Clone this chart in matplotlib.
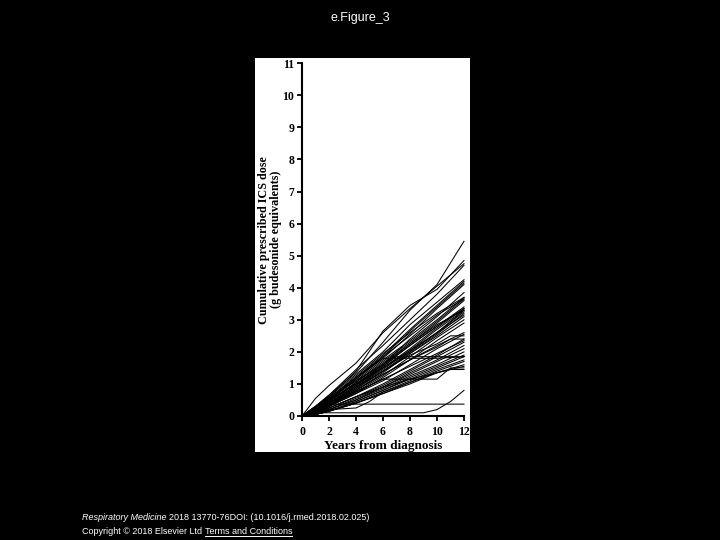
import matplotlib
matplotlib.use("Agg")
import matplotlib.pyplot as plt
from matplotlib.patches import Rectangle
from matplotlib.lines import Line2D

# yearly grid used by most patients
years = [0, 1, 2, 4, 6, 8, 10, 12]

# cumulative ICS dose (g budesonide equivalents) per patient
doses = [
    [0, 0.55, 0.95, 1.65, 2.60, 3.35, 4.05, 4.75],
    [0, 0.30, 0.65, 1.35, 2.30, 3.30, 4.10, 5.45],
    [0, 0.25, 0.60, 1.40, 2.65, 3.45, 3.95, 4.85],
    [0, 0.30, 0.65, 1.45, 2.20, 3.00, 3.80, 4.70],
    [0, 0.30, 0.60, 1.30, 2.00, 2.85, 3.55, 4.25],
    [0, 0.25, 0.55, 1.20, 1.90, 2.70, 3.45, 4.20],
    [0, 0.25, 0.55, 1.20, 1.85, 2.65, 3.40, 4.15],
    [0, 0.20, 0.50, 1.15, 1.80, 2.55, 3.35, 4.10],
    [0, 0.20, 0.45, 1.00, 1.60, 2.40, 3.10, 3.85],
    [0, 0.25, 0.50, 1.10, 1.75, 2.35, 3.00, 3.70],
    [0, 0.20, 0.45, 1.05, 1.70, 2.30, 2.95, 3.65],
    [0, 0.20, 0.45, 1.00, 1.60, 2.25, 2.90, 3.60],
    [0, 0.15, 0.40, 0.95, 1.55, 2.20, 2.80, 3.40],
    [0, 0.15, 0.40, 0.90, 1.50, 2.10, 2.75, 3.35],
    [0, 0.15, 0.35, 0.90, 1.45, 2.05, 2.70, 3.30],
    [0, 0.15, 0.35, 0.85, 1.40, 2.00, 2.60, 3.25],
    [0, 0.10, 0.30, 0.80, 1.35, 1.95, 2.55, 3.20],
    [0, 0.15, 0.35, 0.85, 1.40, 1.95, 2.50, 3.10],
    [0, 0.10, 0.30, 0.75, 1.25, 1.85, 2.45, 3.00],
    [0, 0.10, 0.30, 0.70, 1.20, 1.75, 2.35, 2.90],
    [0, 0.30, 0.60, 1.10, 1.60, 2.20, 2.80, 3.35],
    [0, 0.20, 0.50, 1.00, 1.50, 2.00, 2.60, 3.30],
    [0, 0.15, 0.35, 0.80, 1.30, 1.75, 2.20, 2.60],
    [0, 0.20, 0.50, 1.20, 1.80, 1.80, 1.80, 1.85],
    [0, 0.10, 0.30, 0.70, 1.10, 1.60, 2.10, 2.55],
    [0, 0.10, 0.25, 0.60, 1.00, 1.45, 1.90, 2.40],
    [0, 0.10, 0.25, 0.60, 0.95, 1.40, 1.85, 2.30],
    [0, 0.10, 0.20, 0.55, 0.90, 1.35, 1.75, 2.20],
    [0, 0.05, 0.20, 0.50, 0.90, 1.30, 1.70, 2.10],
    [0, 0.05, 0.20, 0.50, 0.85, 1.25, 1.60, 2.00],
    [0, 0.05, 0.15, 0.45, 0.80, 1.20, 1.55, 1.90],
    [0, 0.05, 0.15, 0.45, 0.80, 1.15, 1.50, 1.85],
    [0, 0.05, 0.15, 0.40, 0.75, 1.10, 1.45, 1.75],
    [0, 0.05, 0.15, 0.40, 0.70, 1.05, 1.40, 1.70],
    [0, 0.05, 0.15, 0.40, 0.70, 1.00, 1.35, 1.60],
    [0, 0.25, 0.55, 1.25, 1.95, 2.60, 3.20, 3.70],
    [0, 0.20, 0.50, 1.15, 1.85, 2.50, 3.15, 3.65],
    [0, 0.20, 0.45, 1.05, 1.65, 2.25, 2.85, 3.30],
    [0, 0.15, 0.40, 0.95, 1.50, 2.05, 2.60, 3.15],
    [0, 0.15, 0.35, 0.75, 1.15, 1.55, 1.95, 2.35],
]

# patients whose records change at irregular years
irregular_years = [
    [0, 2, 12],
    [0, 1, 9, 10, 11, 12],
    [0, 2, 4, 5, 6, 8, 10, 12],
    [0, 2, 4, 6, 10, 11, 12],
    [0, 2, 4, 6, 8, 10, 11, 12],
    [0, 2, 4, 6, 8, 10, 11, 12],
    [0, 2, 4, 6, 7, 12],
    [0, 2, 4, 6, 8, 10, 11, 12],
]
irregular_doses = [
    [0, 0.37, 0.37],
    [0, 0.10, 0.10, 0.20, 0.45, 0.80],
    [0, 0.20, 0.25, 0.45, 0.75, 1.05, 1.35, 1.55],
    [0, 0.35, 0.75, 1.15, 1.15, 1.50, 1.50],
    [0, 0.40, 0.90, 1.40, 1.90, 2.25, 2.50, 2.50],
    [0, 0.25, 0.60, 0.90, 1.15, 1.35, 1.45, 1.45],
    [0, 0.45, 1.00, 1.55, 1.85, 1.85],
    [0, 0.35, 0.80, 1.30, 1.75, 2.15, 2.40, 2.40],
]

x_ticks = [0, 2, 4, 6, 8, 10, 12]
y_ticks = list(range(0, 12))

fig = plt.figure(figsize=(7.2, 5.4), dpi=100, facecolor="black")

# white panel behind the figure
fig.patches.append(Rectangle((255 / 720, 1 - 452 / 540), 215 / 720, 394 / 540,
                             transform=fig.transFigure, facecolor="white",
                             edgecolor="none", zorder=-5))

ax = fig.add_axes([302 / 720, 1 - 416 / 540, 162 / 720, 352.7 / 540])
ax.set_zorder(2)
ax.set_facecolor("white")

for row in doses:
    ax.plot(years, row, color="black", lw=0.75, clip_on=False)
for xs, ys in zip(irregular_years, irregular_doses):
    ax.plot(xs, ys, color="black", lw=0.75, clip_on=False)

ax.set_xlim(0, 12)
ax.set_ylim(0, 11)
ax.set_xticks(x_ticks)
ax.set_yticks(y_ticks)

serif = "Liberation Serif"
for lab in ax.get_xticklabels() + ax.get_yticklabels():
    lab.set_fontfamily(serif)
    lab.set_fontweight("bold")
    lab.set_fontsize(8.5)

ax.spines["top"].set_visible(False)
ax.spines["right"].set_visible(False)
for s in ("left", "bottom"):
    ax.spines[s].set_linewidth(1.5)
ax.tick_params(direction="out", length=3.5, width=1.3)
ax.tick_params(axis="x", pad=4)
ax.tick_params(axis="y", pad=2)

ax.set_xlabel("Years from diagnosis", fontfamily=serif, fontweight="bold",
              fontsize=9.5, labelpad=1)
ax.set_ylabel("Cumulative prescribed ICS dose\n(g budesonide equivalents)",
              fontfamily=serif, fontweight="bold", fontsize=8.7, labelpad=0,
              linespacing=1.05)

fig.text(0.5, 1 - 18 / 540, "e.Figure_3", color="white", ha="center",
         va="center", fontsize=9, fontfamily="Liberation Sans")

# footer
fig.canvas.draw()
renderer = fig.canvas.get_renderer()
t1 = fig.text(82 / 720, 1 - 518 / 540, "Respiratory Medicine", color="white",
              fontsize=6.5, fontstyle="italic", va="center",
              fontfamily="Liberation Sans")
bb = t1.get_window_extent(renderer)
fig.text(bb.x1 / 720 + 0.003, 1 - 518 / 540,
         "2018 13770-76DOI: (10.1016/j.rmed.2018.02.025)", color="white",
         fontsize=6.5, va="center", fontfamily="Liberation Sans")
t3 = fig.text(82 / 720, 1 - 532 / 540, "Copyright \u00a9 2018 Elsevier Ltd ",
              color="white", fontsize=6.5, va="center",
              fontfamily="Liberation Sans")
bb3 = t3.get_window_extent(renderer)
t4 = fig.text(bb3.x1 / 720, 1 - 532 / 540, "Terms and Conditions",
              color="white", fontsize=6.5, va="center",
              fontfamily="Liberation Sans")
bb4 = t4.get_window_extent(renderer)
fig.lines.append(Line2D([bb4.x0 / 720, bb4.x1 / 720],
                        [(bb4.y0 + 0.5) / 540, (bb4.y0 + 0.5) / 540],
                        transform=fig.transFigure, color="white", lw=0.7))

fig.savefig("out.png", dpi=100, facecolor="black")
